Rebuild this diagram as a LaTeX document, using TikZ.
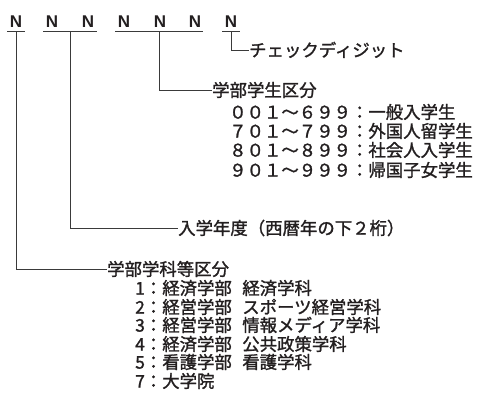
\documentclass[tikz,border=0pt]{standalone}
\usepackage{fontspec}
\setmainfont{Noto Sans CJK JP}[BoldFont=*, BoldFeatures={FakeBold=1.4}]
\newfontfamily\latinbold{Liberation Sans}
\definecolor{ink}{HTML}{231F20}
\definecolor{rule}{HTML}{3A3A3A}
\begin{document}
\begin{tikzpicture}[x=1pt,y=-1pt,
  lbl/.style={anchor=west, inner sep=0pt, text=ink,
    font=\fontsize{17.4}{20}\selectfont\bfseries, text height=15.3pt, text depth=2.1pt},
  digit/.style={anchor=base, inner sep=0pt, text=ink,
    font=\latinbold\fontsize{17}{20}\selectfont\bfseries},
  conn/.style={draw=rule, line width=0.9pt},
  uline/.style={draw=rule, line width=0.9pt}]
\useasboundingbox (0,0) rectangle (478,394);
% the digit letters
\node[digit] (n1) at (16,27) {N};
\node[digit] (n2) at (52,27) {N};
\node[digit] (n3) at (88,27) {N};
\node[digit] (n4) at (124,27) {N};
\node[digit] (n5) at (160,27) {N};
\node[digit] (n6) at (195,27) {N};
\node[digit] (n7) at (231,27) {N};
% underlines
\coordinate (a1) at (7,31);  \coordinate (b1) at (25,31);
\coordinate (a2) at (43,31); \coordinate (b2) at (97,31);
\coordinate (a3) at (115,31);\coordinate (b3) at (203,31);
\coordinate (a4) at (222,31);\coordinate (b4) at (240,31);
\draw[uline] (a1) -- (b1);
\draw[uline] (a2) -- (b2);
\draw[uline] (a3) -- (b3);
\draw[uline] (a4) -- (b4);
\coordinate (u1) at (16,31);
\coordinate (u2) at (70,31);
\coordinate (u3) at (159,31);
\coordinate (u4) at (231,31);
% labels
\node[lbl] (check) at (249,50) {チェックディジット};
\node[lbl] (gakusei) at (212,90) {学部学生区分};
\node[lbl] (g1) at (229,112) {００１～６９９：一般入学生};
\node[lbl] (g2) at (229,131) {７０１～７９９：外国人留学生};
\node[lbl] (g3) at (229,150) {８０１～８９９：社会人入学生};
\node[lbl] (g4) at (229,170) {９０１～９９９：帰国子女学生};
\node[lbl] (nendo) at (178,228) {入学年度（西暦年の下２桁）};
\node[lbl] (gakka) at (107,269) {学部学科等区分};
\node[lbl] (k1) at (135,288) {1：経済学部\hspace{0.6em}経済学科};
\node[lbl] (k2) at (135,307) {2：経営学部\hspace{0.6em}スポーツ経営学科};
\node[lbl] (k3) at (135,325) {3：経営学部\hspace{0.6em}情報メディア学科};
\node[lbl] (k4) at (135,344) {4：経済学部\hspace{0.6em}公共政策学科};
\node[lbl] (k5) at (135,362) {5：看護学部\hspace{0.6em}看護学科};
\node[lbl] (k7) at (135,381) {7：大学院};
% connectors
\draw[conn] (u4) |- (check.west);
\draw[conn] (u3) |- (gakusei.west);
\draw[conn] (u2) |- (nendo.west);
\draw[conn] (u1) |- (gakka.west);
\end{tikzpicture}
\end{document}
